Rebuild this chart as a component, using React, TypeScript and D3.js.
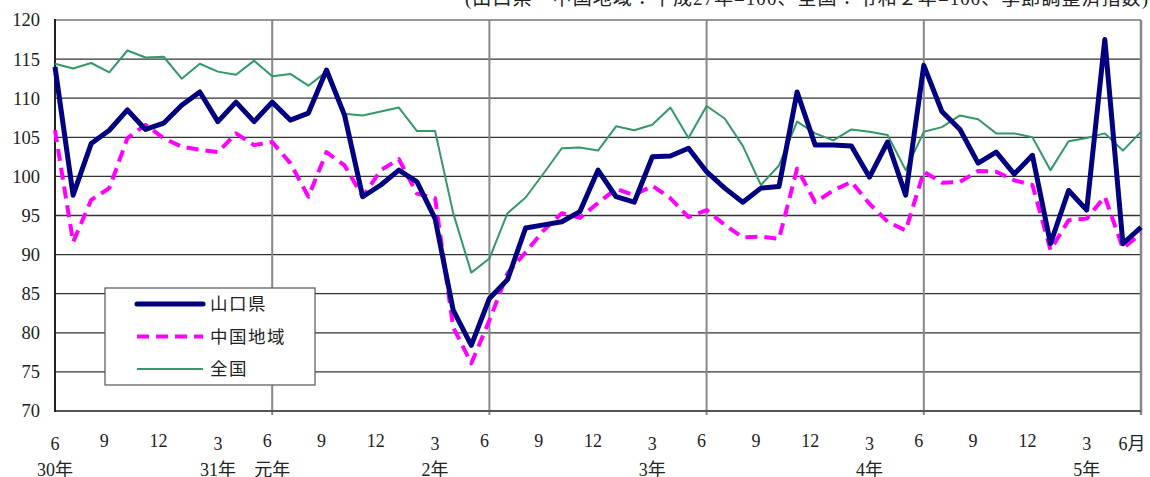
import * as d3 from "d3";

// 平成30年6月 〜 令和5年6月 (月次, 61点)
const yamaguchi = [
  114.0, 97.6, 104.2, 105.9, 108.5, 106.0, 106.8, 109.1, 110.8, 107.0, 109.5, 107.0,
  109.5, 107.2, 108.1, 113.6, 107.8, 97.4, 98.9, 100.8, 99.3, 94.6, 82.9, 78.4,
  84.4, 86.8, 93.4, 93.8, 94.2, 95.5, 100.8, 97.4, 96.7, 102.5, 102.6, 103.6,
  100.6, 98.5, 96.7, 98.5, 98.7, 110.8, 104.0, 104.0, 103.9, 99.9, 104.4, 97.6,
  114.2, 108.3, 106.0, 101.7, 103.1, 100.3, 102.7, 91.4, 98.2, 95.7, 117.5, 91.4,
  93.5,
];
const chugoku = [
  105.9, 91.6, 97.0, 98.5, 104.9, 106.6, 104.9, 103.8, 103.4, 103.1, 105.5, 104.0,
  104.4, 101.7, 97.4, 103.1, 101.4, 97.4, 100.8, 102.2, 97.8, 97.2, 80.7, 76.1,
  81.6, 87.6, 90.3, 93.1, 95.3, 94.7, 96.6, 98.4, 97.6, 98.8, 97.2, 94.8,
  95.7, 93.8, 92.2, 92.3, 92.0, 101.0, 96.7, 98.2, 99.3, 96.5, 94.2, 93.1,
  100.6, 99.2, 99.3, 100.7, 100.6, 99.5, 98.9, 90.6, 94.4, 94.6, 97.4, 90.8,
  92.7,
];
const zenkoku = [
  114.4, 113.8, 114.5, 113.3, 116.1, 115.2, 115.3, 112.5, 114.4, 113.4, 113.0, 114.8,
  112.8, 113.1, 111.6, 113.4, 108.0, 107.8, 108.3, 108.8, 105.8, 105.8, 95.3, 87.7,
  89.5, 95.3, 97.3, 100.4, 103.6, 103.7, 103.3, 106.4, 105.9, 106.6, 108.8, 104.9,
  109.0, 107.4, 103.9, 98.9, 101.4, 107.0, 105.5, 104.6, 106.0, 105.7, 105.3, 100.8,
  105.7, 106.3, 107.8, 107.3, 105.5, 105.5, 105.0, 100.8, 104.5, 104.9, 105.5, 103.3,
  105.7,
];

const monthTickIdx = [0, 3, 6, 9, 12, 15, 18, 21, 24, 27, 30, 33, 36, 39, 42, 45, 48, 51, 54, 57, 60];
const monthTickText = ["6", "9", "12", "3", "6", "9", "12", "3", "6", "9", "12", "3", "6", "9", "12", "3", "6", "9", "12", "3", "6月"];
const yearIdx = [0, 9, 12, 21, 33, 45, 57];
const yearText = ["30年", "31年", "元年", "2年", "3年", "4年", "5年"];
const yTicks = [70, 75, 80, 85, 90, 95, 100, 105, 110, 115, 120];
const juneGrid = [12, 24, 36, 48];

const seriesNames = ["山口県", "中国地域", "全国"];

const title = "(山口県・中国地域：平成27年=100、全国：令和２年=100、季節調整済指数)";

export default function App() {
  const width = 1150;
  const height = 477;
  const left = 55, right = 1141, top = 20, bottom = 411;

  const x = d3.scaleLinear().domain([0, 60]).range([left, right]);
  const y = d3.scaleLinear().domain([70, 120]).range([bottom, top]);

  const line = d3.line<number>()
    .x((_, i) => x(i))
    .y(d => y(d));

  const serif = "'Liberation Serif', 'DejaVu Serif', 'Noto Sans CJK JP', serif";
  const jp = "'Liberation Serif', 'Noto Sans CJK JP', serif";

  const styles = [
    { stroke: "#000080", width: 5, dash: undefined as string | undefined },
    { stroke: "#ff00ff", width: 4, dash: "12 7" },
    { stroke: "#339966", width: 2, dash: undefined as string | undefined },
  ];
  const data = [yamaguchi, chugoku, zenkoku];

  return (
    <svg width={width} height={height} style={{ position: "absolute", left: 0, top: 0, background: "#fff" }}>
      <rect x={0} y={0} width={width} height={height} fill="#fff" />
      {/* title, cut at the top */}
      <text x={465} y={5} fontFamily={jp} fontSize={19} fill="#222" textLength={683} lengthAdjust="spacing">{title}</text>

      {/* horizontal grid */}
      {yTicks.map(t => (
        <line key={t} x1={left} x2={right} y1={y(t)} y2={y(t)} stroke={t === 120 ? "#999" : "#333"} strokeWidth={t === 120 ? 2 : 1.3} />
      ))}
      {/* june grid */}
      {juneGrid.map(i => (
        <line key={i} x1={x(i)} x2={x(i)} y1={top} y2={bottom + 4} stroke="#888" strokeWidth={2} />
      ))}
      {/* frame */}
      <line x1={right} x2={right} y1={top} y2={bottom + 4} stroke="#888" strokeWidth={2.5} />
      <line x1={left} x2={right} y1={bottom} y2={bottom} stroke="#555" strokeWidth={2} />
      <line x1={left} x2={left} y1={top - 1} y2={bottom + 1} stroke="#222" strokeWidth={2} />

      {/* y labels */}
      {yTicks.map(t => (
        <text key={t} x={40} y={y(t)} dy="0.35em" textAnchor="end" fontFamily={serif} fontSize={18.5} fill="#222">{t}</text>
      ))}

      {/* x labels */}
      {monthTickIdx.map((i, k) => {
        const txt = monthTickText[k];
        const low = i === 0 || i === 60 || txt === "3";
        const dx = i === 0 || txt === "3" ? 0 : (i === 60 ? -9 : -5);
        return (
          <text key={i} x={x(i) + dx} y={low ? 450 : 447} textAnchor="middle" fontFamily={jp} fontSize={18} fill="#222">{txt}</text>
        );
      })}
      {yearIdx.map((i, k) => (
        <text key={i} x={x(i)} y={476} textAnchor="middle" fontFamily={jp} fontSize={18} fill="#222">{yearText[k]}</text>
      ))}

      {/* series */}
      {[2, 1, 0].map(s => (
        <path key={s} d={line(data[s]) ?? ""} fill="none" stroke={styles[s].stroke} strokeWidth={styles[s].width}
          strokeDasharray={styles[s].dash} strokeLinejoin="round" />
      ))}

      {/* legend */}
      <rect x={105} y={288} width={210} height={97} fill="#fff" stroke="#555" strokeWidth={1.2} />
      {seriesNames.map((n, k) => {
        const ly = 304 + k * 32.5;
        return (
          <g key={n}>
            <line x1={137} x2={203} y1={ly} y2={ly} stroke={styles[k].stroke} strokeWidth={styles[k].width}
              strokeDasharray={styles[k].dash} strokeLinecap={k === 0 ? "round" : "butt"} />
            <text x={210} y={ly} dy="0.35em" fontFamily={jp} fontSize={17.5} letterSpacing={1.5} fill="#222">{n}</text>
          </g>
        );
      })}
    </svg>
  );
}
